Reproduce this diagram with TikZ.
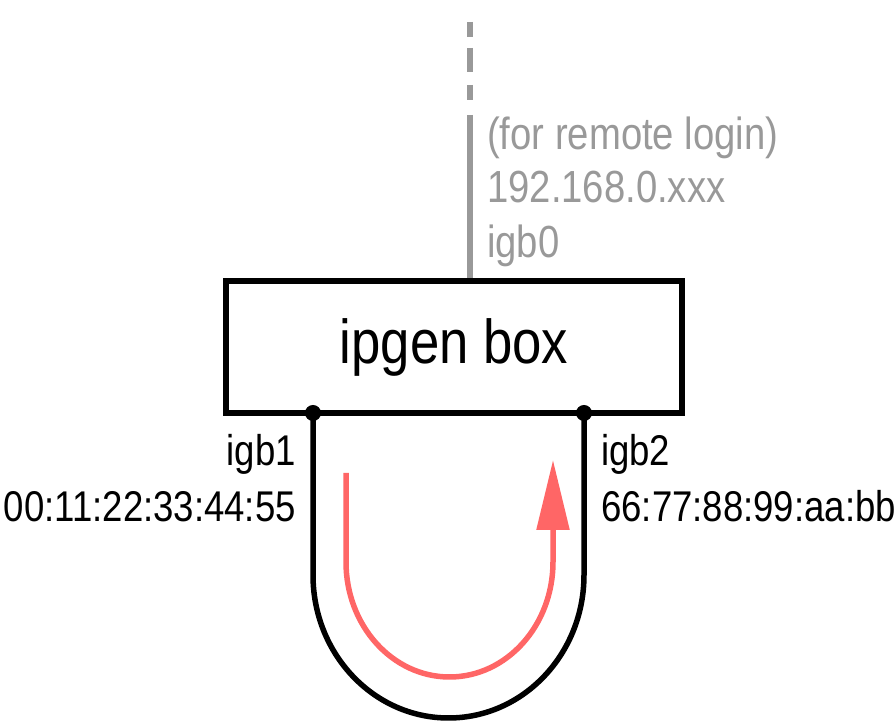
\documentclass[tikz,border=0pt]{standalone}
\usepackage{fontspec}
\setmainfont[FakeStretch=0.85]{Liberation Sans}
\usetikzlibrary{arrows.meta}
\usetikzlibrary{positioning}
\definecolor{remote-gray}{HTML}{999999}
\definecolor{flow-red}{HTML}{FF6666}

\begin{document}
\begin{tikzpicture}[x=1pt, y=1pt, font=\fontsize{43}{50}\selectfont,
  text only/.style={inner sep=0pt, align=left},
  remote text/.style={text only, text=remote-gray, anchor=base west,
    font=\fontsize{45}{50}\selectfont},
  wire/.style={line width=5.5pt}]
\useasboundingbox (0,0) rectangle (895,727);
\node[draw, line width=6pt, inner sep=0pt, minimum width=456pt,
  minimum height=132pt, font=\fontsize{62}{70}\selectfont]
  (box)
  at (454, 380)
  {ipgen box};
% uplink for remote login
\coordinate (remote) at (470, 705);
\draw[remote-gray, line width=6pt,
  dash pattern=on 15pt off 11pt on 24pt off 13pt on 15pt off 15pt on 600pt]
  (remote) -- (box.north -| remote);
\node[remote text]
  (login)
  at (487, 577)
  {(for remote login)};
\node[remote text]
  (addr)
  at (487, 524)
  {192.168.0.xxx};
\node[remote text]
  (igb0)
  at (487, 469)
  {igb0};
% loopback cable
\coordinate (igb1) at (313, 314);
\coordinate (igb2) at (584, 314);
\draw[wire]
  (igb1) -- ++(0,-162)
  arc[start angle=180, end angle=360, x radius=135.5, y radius=143]
  -- (igb2);
\foreach \x/\lx/\name/\side/\mac in {
    313/296/1/east/00:11:22:33:44:55,
    584/601/2/west/66:77:88:99:aa:bb} {
  \fill (igb\name) circle (8pt);
  \node[text only, anchor=base \side]
    (name-\name)
    at (\lx, 261)
    {igb\name};
  \node[text only, anchor=base \side]
    (mac-\name)
    at (\lx, 205)
    {\mac};
}
% packet flow
\coordinate (flow-start) at (346, 254);
\coordinate (flow-end) at (553, 267);
\draw[flow-red, line width=5.5pt, -{Triangle[length=70pt, width=32pt]}]
  (flow-start) -- ++(0,-89)
  arc[start angle=180, end angle=360, x radius=103.5, y radius=115]
  -- (flow-end);
\end{tikzpicture}
\end{document}
